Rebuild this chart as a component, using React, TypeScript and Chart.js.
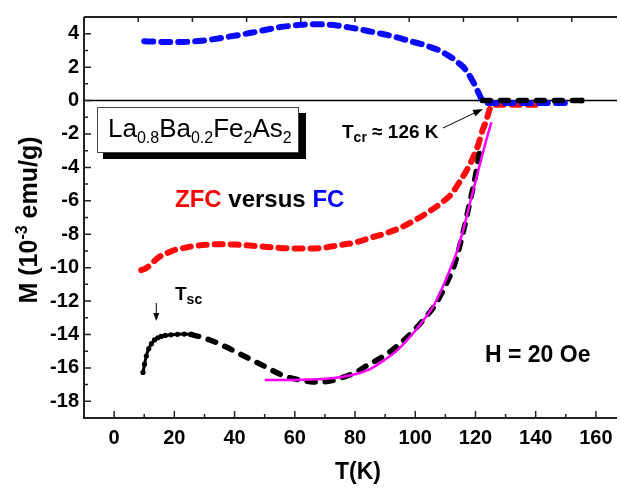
import { useEffect, useRef } from "react";
import { Chart, registerables } from "chart.js";

Chart.register(...registerables);

const FONT = "'Liberation Sans', Arial, Helvetica, sans-serif";

// Axis ticks
const X_TICKS = [0, 20, 40, 60, 80, 100, 120, 140, 160];
const X_MINOR = [10, 30, 50, 70, 90, 110, 130, 150];
const TOP_TICKS = [8, 26, 44, 62, 80, 98, 116, 134, 152];
const Y_TICKS = [4, 2, 0, -2, -4, -6, -8, -10, -12, -14, -16, -18];
const Y_MINOR = [3, 1, -1, -3, -5, -7, -9, -11, -13, -15, -17];

// FC branch (blue)
const fcT = [10, 14, 18, 22, 26, 30, 34, 38, 42, 46, 50, 54, 58, 62, 66, 70, 74, 78, 82, 86, 90, 94, 98, 102, 105, 108, 110, 112, 114, 116, 118, 120, 121.3, 122.3, 123.5, 128, 134, 140, 146, 150.5];
const fcM = [3.55, 3.52, 3.5, 3.5, 3.53, 3.6, 3.7, 3.82, 3.94, 4.07, 4.22, 4.36, 4.46, 4.53, 4.57, 4.55, 4.49, 4.38, 4.25, 4.1, 3.95, 3.78, 3.57, 3.38, 3.2, 3.0, 2.8, 2.58, 2.3, 2.0, 1.5, 0.85, 0.35, 0.0, -0.15, -0.15, -0.15, -0.15, -0.15, -0.15];

// ZFC branch (red)
const zfcT = [9, 10.5, 12, 14, 16, 18, 20, 23, 27, 31, 35, 40, 45, 50, 55, 60, 65, 70, 75, 80, 85, 90, 95, 100, 105, 109, 112, 114.6, 117, 119, 121, 122.3, 123.5, 124.9, 126.5, 130, 135, 141.5];
const zfcM = [-10.15, -10.05, -9.85, -9.5, -9.25, -9.1, -8.95, -8.83, -8.7, -8.63, -8.6, -8.62, -8.68, -8.75, -8.82, -8.85, -8.86, -8.8, -8.65, -8.5, -8.22, -7.96, -7.62, -7.15, -6.6, -6.08, -5.6, -4.9, -4.2, -3.5, -2.6, -1.8, -1.25, -0.45, -0.25, -0.25, -0.25, -0.25];

// H = 20 Oe curve (black): dense low-temperature points
const lowT = [9.6, 10.1, 10.7, 11.5, 12.4, 13.4, 14.5, 15.6, 17, 18.9, 21, 23.3, 25.5];
const lowM = [-16.27, -15.78, -15.29, -14.85, -14.55, -14.33, -14.2, -14.12, -14.06, -14.02, -13.99, -13.98, -14.0];

// H = 20 Oe curve (black): below the transition
const m20T = [25.5, 29.9, 35.4, 42, 49.7, 56.3, 62.9, 66, 69.5, 72, 76, 80, 83.8, 90.4, 97, 103.6, 106.9, 111.3, 112.9, 115.7, 117.9, 120, 121.3];
const m20M = [-14.0, -14.21, -14.6, -15.19, -15.88, -16.47, -16.76, -16.85, -16.84, -16.78, -16.56, -16.3, -15.88, -15.19, -14.21, -12.94, -12.15, -10.59, -9.9, -8.04, -6.27, -4.5, -3.1];

// H = 20 Oe curve (black): above the transition
const m20hiT = [122.3, 128, 134, 140, 146, 151, 155.3];
const m20hiM = [0.0, 0.0, 0.0, 0.0, 0.0, 0.0, 0.0];

// Fit (magenta)
const fitT = [50, 55, 60, 65, 70, 75, 80, 85, 90, 94, 97, 100, 103, 106, 109, 112, 114, 116, 118, 120, 122, 124, 125.3];
const fitM = [-16.72, -16.72, -16.72, -16.7, -16.65, -16.56, -16.38, -16.07, -15.5, -14.95, -14.4, -13.78, -13.08, -12.3, -11.2, -9.9, -8.95, -7.7, -6.25, -4.85, -3.45, -2.1, -1.3];

const pts = (xs: number[], ys: number[]) => xs.map((x, i) => ({ x, y: ys[i] }));

type Run = { text: string; size: number; dy?: number; color?: string; weight?: string };

function drawRuns(ctx: CanvasRenderingContext2D, x: number, y: number, runs: Run[], align: "left" | "center" = "left") {
  const widths = runs.map((r) => {
    ctx.font = `${r.weight ?? "bold"} ${r.size}px ${FONT}`;
    return ctx.measureText(r.text).width;
  });
  const total = widths.reduce((a, b) => a + b, 0);
  let cx = align === "center" ? x - total / 2 : x;
  ctx.textAlign = "left";
  ctx.textBaseline = "alphabetic";
  runs.forEach((r, i) => {
    ctx.font = `${r.weight ?? "bold"} ${r.size}px ${FONT}`;
    ctx.fillStyle = r.color ?? "#000";
    ctx.fillText(r.text, cx, y + (r.dy ?? 0));
    cx += widths[i];
  });
}

function arrow(ctx: CanvasRenderingContext2D, x1: number, y1: number, x2: number, y2: number, len: number, half: number) {
  const ang = Math.atan2(y2 - y1, x2 - x1);
  ctx.beginPath();
  ctx.moveTo(x1, y1);
  ctx.lineTo(x2 - Math.cos(ang) * len * 0.8, y2 - Math.sin(ang) * len * 0.8);
  ctx.stroke();
  ctx.beginPath();
  ctx.moveTo(x2, y2);
  ctx.lineTo(x2 - Math.cos(ang) * len - Math.sin(ang) * half, y2 - Math.sin(ang) * len + Math.cos(ang) * half);
  ctx.lineTo(x2 - Math.cos(ang) * len + Math.sin(ang) * half, y2 - Math.sin(ang) * len - Math.cos(ang) * half);
  ctx.closePath();
  ctx.fill();
}

const decor = {
  id: "decor",
  beforeDatasetsDraw(chart: any) {
    const { ctx, chartArea: a, scales } = chart;
    const y0 = scales.y.getPixelForValue(0);
    ctx.save();
    ctx.strokeStyle = "#000";
    ctx.lineWidth = 1.5;
    ctx.beginPath();
    ctx.moveTo(a.left, y0);
    ctx.lineTo(a.right, y0);
    ctx.stroke();
    ctx.restore();
  },
  afterDraw(chart: any) {
    const { ctx, chartArea: a, scales } = chart;
    const xs = scales.x;
    const ys = scales.y;
    ctx.save();
    ctx.strokeStyle = "#222";
    ctx.fillStyle = "#000";
    ctx.lineWidth = 2;
    ctx.lineCap = "butt";

    // frame: left, bottom, top
    ctx.beginPath();
    ctx.moveTo(a.left, a.top);
    ctx.lineTo(a.left, a.bottom);
    ctx.lineTo(a.right, a.bottom);
    ctx.moveTo(a.left, a.top);
    ctx.lineTo(a.right, a.top);
    ctx.stroke();

    // inward ticks
    ctx.lineWidth = 1.5;
    ctx.beginPath();
    X_TICKS.forEach((v) => {
      const px = xs.getPixelForValue(v);
      ctx.moveTo(px, a.bottom);
      ctx.lineTo(px, a.bottom - 7);
    });
    X_MINOR.forEach((v) => {
      const px = xs.getPixelForValue(v);
      ctx.moveTo(px, a.bottom);
      ctx.lineTo(px, a.bottom - 4);
    });
    TOP_TICKS.forEach((v) => {
      const px = xs.getPixelForValue(v);
      ctx.moveTo(px, a.top);
      ctx.lineTo(px, a.top + 5);
    });
    Y_TICKS.forEach((v) => {
      const py = ys.getPixelForValue(v);
      ctx.moveTo(a.left, py);
      ctx.lineTo(a.left + 7, py);
    });
    Y_MINOR.forEach((v) => {
      const py = ys.getPixelForValue(v);
      ctx.moveTo(a.left, py);
      ctx.lineTo(a.left + 4, py);
    });
    ctx.stroke();

    // axis titles
    drawRuns(ctx, 358, 479, [{ text: "T(K)", size: 23 }], "center");
    ctx.save();
    ctx.translate(37, 220);
    ctx.rotate(-Math.PI / 2);
    drawRuns(
      ctx,
      0,
      0,
      [
        { text: "M (10", size: 25 },
        { text: "-3", size: 16, dy: -10 },
        { text: " emu/g)", size: 25 },
      ],
      "center"
    );
    ctx.restore();

    // compound label box with drop shadow
    ctx.fillStyle = "#000";
    ctx.fillRect(103, 113, 203, 46);
    ctx.fillStyle = "#fff";
    ctx.fillRect(97, 107, 202, 46);
    ctx.strokeStyle = "#444";
    ctx.lineWidth = 1;
    ctx.strokeRect(97.5, 107.5, 201, 45);
    drawRuns(ctx, 108, 137, [
      { text: "La", size: 26, weight: "normal" },
      { text: "0.8", size: 16, dy: 6, weight: "normal" },
      { text: "Ba", size: 26, weight: "normal" },
      { text: "0.2", size: 16, dy: 6, weight: "normal" },
      { text: "Fe", size: 26, weight: "normal" },
      { text: "2", size: 16, dy: 6, weight: "normal" },
      { text: "As", size: 26, weight: "normal" },
      { text: "2", size: 16, dy: 6, weight: "normal" },
    ]);

    // ZFC versus FC
    drawRuns(ctx, 175, 207, [
      { text: "ZFC", size: 24, color: "#ff0000" },
      { text: " versus ", size: 24, color: "#000" },
      { text: "FC", size: 24, color: "#0000ff" },
    ]);

    // Tcr
    drawRuns(ctx, 342, 138, [
      { text: "T", size: 19 },
      { text: "cr", size: 14, dy: 4 },
      { text: " \u2248 126 K", size: 19 },
    ]);
    ctx.strokeStyle = "#000";
    ctx.fillStyle = "#000";
    ctx.lineWidth = 1;
    arrow(ctx, 443, 128, xs.getPixelForValue(122.5), ys.getPixelForValue(-0.5), 10, 3.5);

    // Tsc
    drawRuns(ctx, 175, 300, [
      { text: "T", size: 19 },
      { text: "sc", size: 14, dy: 4 },
    ]);
    const tscX = xs.getPixelForValue(14);
    arrow(ctx, tscX, 303, tscX, 321, 8, 3);

    // field
    drawRuns(ctx, 485, 362, [{ text: "H = 20 Oe", size: 23 }]);
    ctx.restore();
  },
};

export default function App() {
  const ref = useRef<HTMLCanvasElement | null>(null);

  useEffect(() => {
    if (!ref.current) return;
    const lineBase = {
      showLine: true,
      pointRadius: 0,
      fill: false,
      tension: 0.4,
      cubicInterpolationMode: "monotone" as const,
      borderCapStyle: "round" as const,
      borderJoinStyle: "round" as const,
    };
    const hiRadius = m20hiT.map((_, i) => (i === m20hiT.length - 1 ? 3 : 0));
    const chart = new Chart(ref.current, {
      type: "scatter",
      data: {
        datasets: [
          {
            ...lineBase,
            label: "Fit",
            data: pts(fitT, fitM),
            borderColor: "#ff00ff",
            borderWidth: 2.5,
            borderCapStyle: "butt",
            order: 0,
          },
          {
            ...lineBase,
            label: "H = 20 Oe (low T)",
            data: pts(lowT, lowM),
            borderColor: "#000",
            backgroundColor: "#000",
            borderWidth: 3,
            pointRadius: 2.6,
            pointBorderWidth: 0,
            order: 1,
          },
          {
            ...lineBase,
            label: "H = 20 Oe",
            data: pts(m20T, m20M),
            borderColor: "#000",
            borderWidth: 5.5,
            borderDash: [8, 10],
            order: 1,
          },
          {
            ...lineBase,
            label: "H = 20 Oe (T > Tcr)",
            data: pts(m20hiT, m20hiM),
            borderColor: "#000",
            backgroundColor: "#000",
            borderWidth: 5.5,
            borderDash: [8, 10],
            pointRadius: hiRadius,
            pointBorderWidth: 0,
            order: 1,
          },
          {
            ...lineBase,
            label: "FC",
            data: pts(fcT, fcM),
            borderColor: "#0a0aff",
            borderWidth: 6,
            borderDash: [9, 8],
            order: 2,
          },
          {
            ...lineBase,
            label: "ZFC",
            data: pts(zfcT, zfcM),
            borderColor: "#ff0a0a",
            borderWidth: 6,
            borderDash: [8, 8],
            order: 3,
          },
        ],
      },
      options: {
        animation: false,
        responsive: false,
        devicePixelRatio: 1,
        layout: { padding: { top: 13, right: 0, left: 0, bottom: 0 } },
        plugins: { legend: { display: false }, tooltip: { enabled: false } },
        scales: {
          x: {
            type: "linear",
            min: -10,
            max: 167,
            grid: { display: false, drawTicks: false },
            border: { display: false },
            afterFit: (s: any) => {
              s.height = 70;
            },
            afterBuildTicks: (s: any) => {
              s.ticks = X_TICKS.map((value) => ({ value }));
            },
            ticks: {
              padding: 8,
              color: "#000",
              font: { family: FONT, size: 20, weight: "bold" },
              callback: (v: any) => String(v),
            },
          },
          y: {
            type: "linear",
            min: -19,
            max: 5,
            grid: { display: false, drawTicks: false },
            border: { display: false },
            afterFit: (s: any) => {
              s.width = 84;
            },
            afterBuildTicks: (s: any) => {
              s.ticks = Y_TICKS.map((value) => ({ value }));
            },
            ticks: {
              padding: 5,
              color: "#000",
              font: { family: FONT, size: 20, weight: "bold" },
              callback: (v: any) => String(v),
            },
          },
        },
      },
      plugins: [decor],
    });
    return () => chart.destroy();
  }, []);

  return (
    <div style={{ position: "fixed", left: 0, top: 0, width: 621, height: 488, background: "#fff" }}>
      <canvas ref={ref} width={621} height={488} style={{ display: "block", width: 621, height: 488 }} />
    </div>
  );
}
